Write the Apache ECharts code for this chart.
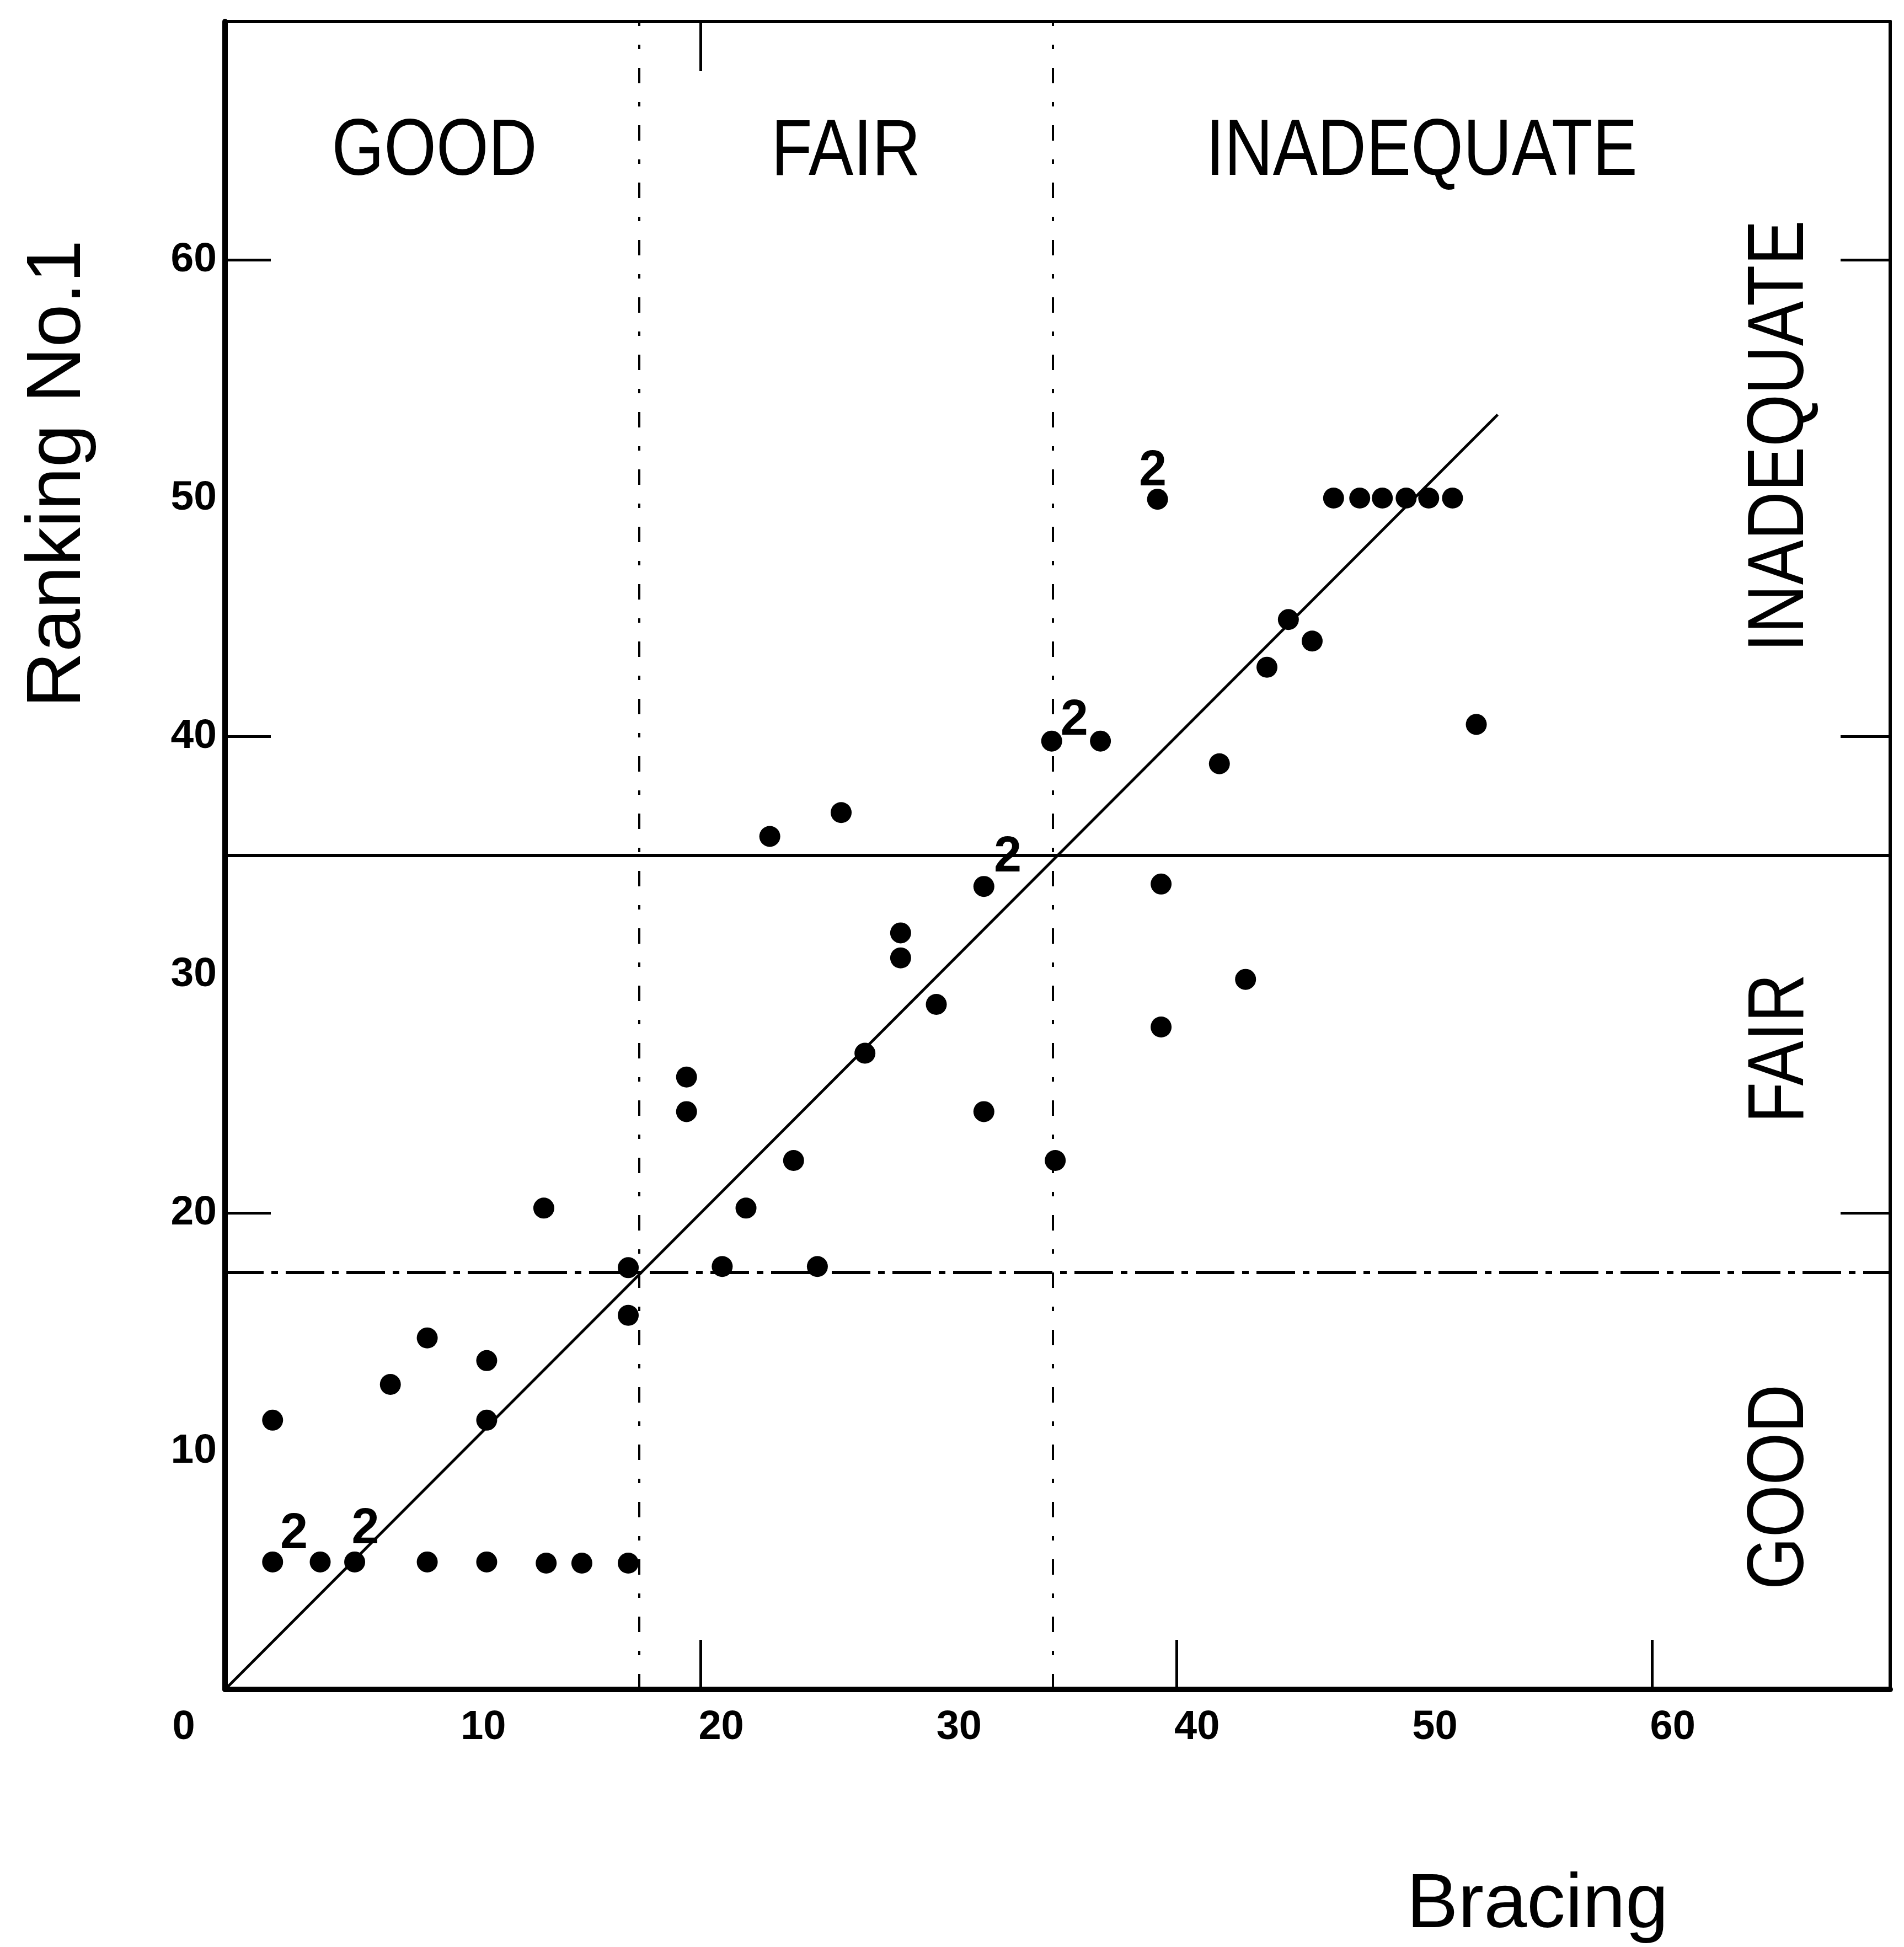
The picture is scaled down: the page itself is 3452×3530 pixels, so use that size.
<!DOCTYPE html>
<html>
<head>
<meta charset="utf-8">
<title>Ranking No.1 / Bracing</title>
<script src="https://cdn.jsdelivr.net/npm/echarts@6/dist/echarts.min.js"></script>
<style>
    html, body { margin: 0; padding: 0; background: #fff; }
    #chart { width: 3452px; height: 3530px; }
</style>
</head>
<body>
<div id="chart"></div>
<script>
// single cases: [Bracing, Ranking No.1]
var dots = [
    [2.0, 11.3], [2.0, 5.35], [4.0, 5.35], [5.45, 5.35], [6.95, 12.8], [8.5, 14.75],
    [8.5, 5.35], [11.0, 13.8], [11.0, 11.3], [11.0, 5.35], [13.4, 20.2], [13.5, 5.3],
    [15.0, 5.3], [16.95, 5.3], [16.95, 15.7], [16.95, 17.7],
    [19.4, 25.7], [19.4, 24.25], [20.9, 17.75], [21.9, 20.2], [22.9, 35.8], [23.9, 22.2],
    [24.9, 17.75], [25.9, 36.8], [26.9, 26.7], [28.4, 31.75], [28.4, 30.7], [29.9, 28.75],
    [31.9, 33.7], [31.9, 24.25], [34.75, 39.8], [34.9, 22.2], [36.8, 39.8],
    [39.2, 49.95], [39.35, 33.8], [39.35, 27.8], [41.8, 38.85], [42.9, 29.8], [43.8, 42.9],
    [44.7, 44.9], [45.7, 44.0], [46.6, 50], [47.7, 50], [48.65, 50], [49.65, 50],
    [50.6, 50], [51.6, 50], [52.6, 40.5]
];
// two cases on the same spot, printed as "2"
var pairs = [[2.9, 6.5], [5.9, 6.7], [32.9, 34.9], [35.7, 40.65], [39.0, 51.1]];
// fitted line
var fitLine = [[0, 0], [53.5, 53.5]];

// class limits
var rankLimits = [17.5, 35];
var bracingLimits = [17.4, 34.8];
var zoneNames = ['GOOD', 'FAIR', 'INADEQUATE'];
var topLabelX = [8.8, 26.1, 50.3];
var sideLabelY = [8.5, 26.9, 52.6];
var topLabelY = 64.5;
var sideLabelX = 65.4;

// axes
var xLabelValues = [0, 10, 20, 30, 40, 50, 60];
var yLabelValues = [10, 20, 30, 40, 50, 60];
var majorTicks = [20, 40, 60];

var black = '#000';
var fontName = '"Liberation Sans", Arial, sans-serif';

var chart = echarts.init(document.getElementById('chart'));

var option = {
    animation: false,
    backgroundColor: '#fff',
    grid: {
        left: 408,
        right: 25,
        top: 39,
        bottom: 453
    },
    xAxis: [{
        type: 'value',
        position: 'bottom',
        min: 0,
        max: 70,
        name: 'Bracing',
        nameLocation: 'middle',
        nameGap: 322,
        nameTextStyle: {
            fontFamily: fontName,
            fontSize: 140,
            color: black,
            padding: [0, 0, 0, 1740]
        },
        axisLine: { show: true, onZero: false, lineStyle: { color: black, width: 10 } },
        axisTick: {
            show: true,
            inside: true,
            length: 90,
            customValues: majorTicks,
            lineStyle: { color: black, width: 5 }
        },
        axisLabel: {
            customValues: xLabelValues,
            margin: 33,
            formatter: function (v) {
                return v === 0 ? '{z|0}' : '{n|' + v + '}';
            },
            rich: {
                z: { fontFamily: fontName, fontWeight: 'bold', fontSize: 74, color: black, padding: [0, 150, 0, 0] },
                n: { fontFamily: fontName, fontWeight: 'bold', fontSize: 74, color: black, padding: [0, 0, 0, 74] }
            }
        },
        splitLine: { show: false }
    }, {
        type: 'value',
        position: 'top',
        min: 0,
        max: 70,
        axisLine: { show: true, onZero: false, lineStyle: { color: black, width: 6 } },
        axisTick: {
            show: true,
            inside: true,
            length: 90,
            customValues: [20],
            lineStyle: { color: black, width: 5 }
        },
        axisLabel: { show: false },
        splitLine: { show: false }
    }],
    yAxis: [{
        type: 'value',
        position: 'left',
        min: 0,
        max: 70,
        name: 'Ranking No.1',
        nameLocation: 'middle',
        nameGap: 232,
        nameTextStyle: {
            fontFamily: fontName,
            fontSize: 140,
            color: black,
            padding: [0, 0, 0, 1384]
        },
        axisLine: { show: true, onZero: false, lineStyle: { color: black, width: 10 } },
        axisTick: {
            show: true,
            inside: true,
            length: 83,
            customValues: majorTicks,
            lineStyle: { color: black, width: 5 }
        },
        axisLabel: {
            customValues: yLabelValues,
            margin: 15,
            fontFamily: fontName,
            fontWeight: 'bold',
            fontSize: 75,
            color: black,
            padding: [0, 0, 40, 0]
        },
        splitLine: { show: false }
    }, {
        type: 'value',
        position: 'right',
        min: 0,
        max: 70,
        axisLine: { show: true, onZero: false, lineStyle: { color: black, width: 6 } },
        axisTick: {
            show: true,
            inside: true,
            length: 90,
            customValues: majorTicks,
            lineStyle: { color: black, width: 5 }
        },
        axisLabel: { show: false },
        splitLine: { show: false }
    }],
    series: [{
        name: 'fit',
        type: 'line',
        data: fitLine,
        symbol: 'none',
        lineStyle: { color: black, width: 5 },
        z: 2,
        markLine: {
            silent: true,
            symbol: 'none',
            label: { show: false },
            data: [
                { yAxis: rankLimits[1], lineStyle: { color: black, width: 6, type: 'solid' } },
                { yAxis: rankLimits[0], lineStyle: { color: black, width: 6, type: [70, 14, 12, 14] } },
                { xAxis: bracingLimits[0], lineStyle: { color: black, width: 4, type: [28, 34, 8, 34] } },
                { xAxis: bracingLimits[1], lineStyle: { color: black, width: 4, type: [28, 34, 8, 34] } }
            ]
        }
    }, {
        name: 'cases',
        type: 'scatter',
        data: dots,
        symbol: 'circle',
        symbolSize: 38,
        itemStyle: { color: black, opacity: 1 },
        z: 3
    }, {
        name: 'pairs',
        type: 'scatter',
        data: pairs,
        symbol: 'circle',
        symbolSize: 2,
        itemStyle: { color: 'rgba(0,0,0,0)', opacity: 1 },
        label: {
            show: true,
            position: 'inside',
            formatter: '2',
            fontFamily: fontName,
            fontWeight: 'bold',
            fontSize: 90,
            color: black,
            opacity: 1
        },
        z: 4
    }]
};

chart.setOption(option);

// zone names along the top and down the right side
var graphics = [];
zoneNames.forEach(function (name, i) {
    var top = chart.convertToPixel({ gridIndex: 0 }, [topLabelX[i], topLabelY]);
    var side = chart.convertToPixel({ gridIndex: 0 }, [sideLabelX, sideLabelY[i]]);
    var style = {
        text: name,
        font: '145px ' + fontName,
        fill: black,
        align: 'center',
        verticalAlign: 'middle',
        textAlign: 'center',
        textVerticalAlign: 'middle'
    };
    graphics.push({ type: 'text', x: top[0], y: top[1], scaleX: 0.84, style: style });
    graphics.push({ type: 'text', x: side[0], y: side[1], rotation: Math.PI / 2, scaleX: 0.84, style: style });
});
chart.setOption({ graphic: graphics });
</script>
</body>
</html>
